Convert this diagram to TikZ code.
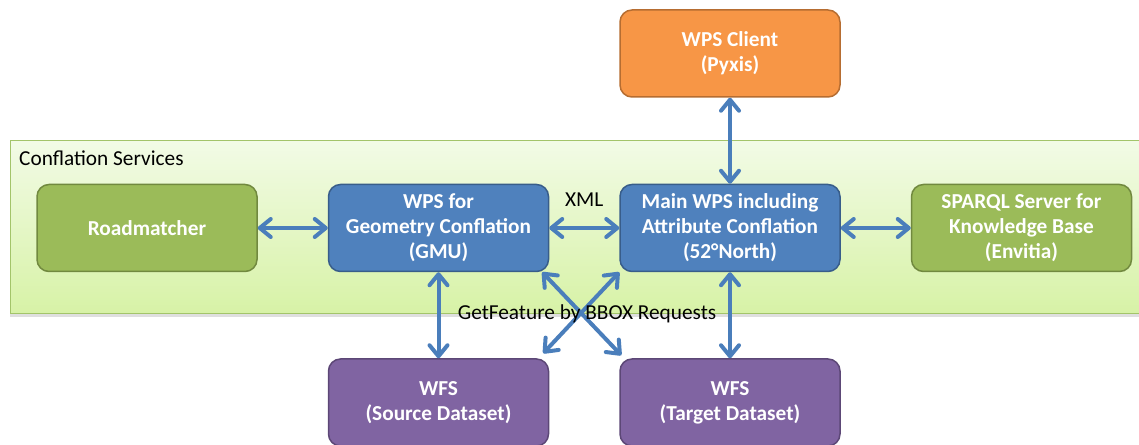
\documentclass[tikz,border=0pt]{standalone}
\usepackage{fontspec}
\setmainfont{Carlito}
\usetikzlibrary{arrows.meta,positioning,shadows}
\definecolor{grnfill}{HTML}{9BBB59}
\definecolor{grnline}{HTML}{71893F}
\definecolor{bluefill}{HTML}{4F81BD}
\definecolor{blueline}{HTML}{385D8A}
\definecolor{orgfill}{HTML}{F79646}
\definecolor{orgline}{HTML}{B66D31}
\definecolor{purfill}{HTML}{8064A2}
\definecolor{purline}{HTML}{5C4776}
\definecolor{arrblue}{HTML}{4A7EBB}
\definecolor{pantop}{HTML}{F2FBE6}
\definecolor{panbot}{HTML}{D7F2A6}
\definecolor{panline}{HTML}{A3C46A}

\begin{document}
\begin{tikzpicture}[x=1pt,y=1pt,
    node distance=86pt and 70pt,
    box/.style={draw, line width=1.5pt, rounded corners=12pt,
        minimum width=220pt, minimum height=87pt, align=center,
        text=white, font=\bfseries\fontsize{21.3}{25}\selectfont},
    grnbox/.style={box, fill=grnfill, draw=grnline},
    bluebox/.style={box, fill=bluefill, draw=blueline},
    orgbox/.style={box, fill=orgfill, draw=orgline},
    purbox/.style={box, fill=purfill, draw=purline},
    dbl/.style={draw=arrblue, line width=4pt,
        {Straight Barb[length=11pt,width=18pt,round]}-{Straight Barb[length=11pt,width=18pt,round]}},
    lbl/.style={inner sep=0pt, font=\fontsize{21.3}{25}\selectfont}]
  \clip (0,0) rectangle (1139,444);
  % panel
  \draw[panline, line width=1pt, top color=pantop, bottom color=panbot,
        drop shadow={shadow xshift=0pt, shadow yshift=-3pt, opacity=0.25}]
        (10,130) rectangle (1150,303);
  \node[lbl, anchor=base west] (cs) at (19,278) {Conflation Services};
  % boxes
  \node[grnbox] (rm) at (147,216) {Roadmatcher};
  \node[bluebox, right=of rm] (g) {WPS for\\Geometry Conflation\\(GMU)};
  \node[bluebox, right=of g] (m) {Main WPS including\\Attribute Conflation\\(52°North)};
  \node[grnbox, right=of m] (kb) {SPARQL Server for\\Knowledge Base\\(Envitia)};
  \node[orgbox, above=of m] (cl) {WPS Client\\(Pyxis)};
  \node[purbox, below=of g] (s) {WFS\\(Source Dataset)};
  \node[purbox, below=of m] (t) {WFS\\(Target Dataset)};
  % connectors
  \draw[dbl] (rm) -- (g);
  \draw[dbl] (g) -- node[lbl, above=19pt] (xml) {XML} (m);
  \draw[dbl] (m) -- (kb);
  \draw[dbl] (cl) -- (m);
  \draw[dbl] (g) -- (s);
  \draw[dbl] (m) -- (t);
  \draw[dbl] ([xshift=-7pt]g.south east) -- ([shift={(2pt,3pt)}]t.north west);
  \draw[dbl] (m.south west) -- ([shift={(-6pt,5pt)}]s.north east);
  \node[lbl, anchor=base] (gf) at (587,124) {GetFeature by BBOX Requests};
\end{tikzpicture}
\end{document}
